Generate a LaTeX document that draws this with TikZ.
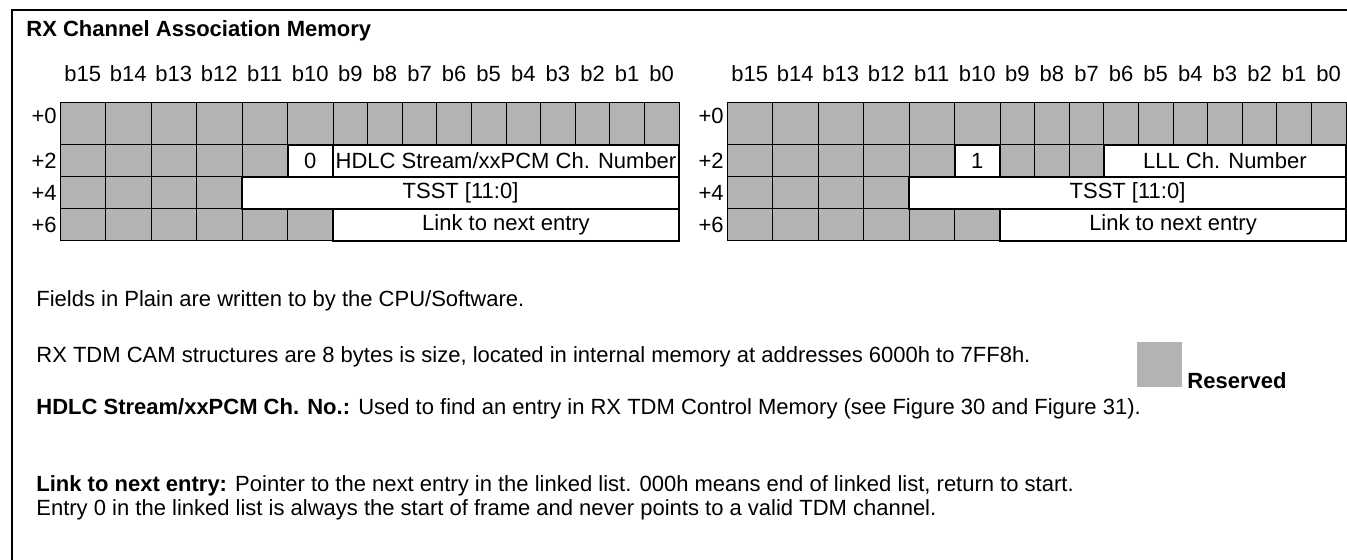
\documentclass[tikz,border=0pt]{standalone}
\usepackage{fontspec}
\setmainfont{Liberation Sans}
\usetikzlibrary{positioning}

\definecolor{resgray}{RGB}{179,179,179}
\newcommand{\camfont}{\fontsize{11}{13.2}\selectfont}
% left edge of bit column #1 (b15 = column 0), in pixels
\pgfmathdeclarefunction{colx}{1}{\pgfmathparse{(#1<=6) ? 45.5*#1 : 273+34.6*(#1-6)}}

\tikzset{
  gridcell/.style={fill=resgray, draw=black, line width=0.5pt},
  field/.style={draw=black, line width=1pt, fill=white, inner sep=0pt, outer sep=0pt,
    anchor=north west, minimum height=16pt, font=\camfont},
  bitlabel/.style={anchor=base, inner sep=0pt, font=\camfont},
  offlabel/.style={anchor=east, inner sep=0pt, font=\camfont},
  plaintext/.style={anchor=base west, inner sep=0pt, font=\camfont},
  boldtext/.style={anchor=base west, inner sep=0pt, font=\camfont\bfseries},
}

\begin{document}
\begin{tikzpicture}[x=0.5pt, y=-0.5pt]
  \useasboundingbox (0,0) rectangle (1347,560);
  \draw[line width=1pt] (12,560) -- (12,10) -- (1347,10);

  \node[boldtext] (title) at (26,37) {RX Channel Association Memory};

  % both entry layouts: grey cells, bit numbers, offsets
  \foreach \xo/\t in {60/l,727/r} {
    \foreach \top/\bot in {103/145,145/177,177/209,209/241}
      \foreach \c in {0,...,15}
        \draw[gridcell] ({\xo+colx(\c)},\top) rectangle ({\xo+colx(\c+1)},\bot);
    \foreach \c in {0,...,15} {
      \pgfmathtruncatemacro\bit{15-\c}
      \node[bitlabel] (\t b\c) at ({\xo+colx(\c+0.5)},82) {b\bit};
    }
    \foreach \o/\y in {0/116,2/161,4/193,6/225}
      \node[offlabel] (\t o\o) at (\xo-3,\y) {+\o};
  }

  % left entry: HDLC stream / xxPCM channel
  \node[field, minimum width=22.75pt] (lflag) at (287.5,145) {0};
  \node[field, minimum width=173pt] (lhdlc) at (333,145) {HDLC Stream/xxPCM Ch. Number};
  \node[field, minimum width=218.5pt] (ltsst) at (242,177) {TSST [11:0]};
  \node[field, minimum width=173pt] (llink) at (333,209) {Link to next entry};

  % right entry: LLL channel
  \node[field, minimum width=22.75pt] (rflag) at (954.5,145) {1};
  \node[field, minimum width=121.1pt] (rlll) at (1103.8,145) {LLL Ch. Number};
  \node[field, minimum width=218.5pt] (rtsst) at (909,177) {TSST [11:0]};
  \node[field, minimum width=173pt] (rlink) at (1000,209) {Link to next entry};

  % notes
  \node[plaintext] (note1) at (36,307) {Fields in Plain are written to by the CPU/Software.};
  \node[plaintext] (note2) at (36,363) {RX TDM CAM structures are 8 bytes is size, located in internal memory at addresses 6000h to 7FF8h.};
  \node[plaintext] (note3) at (36,415) {\textbf{HDLC Stream/xxPCM Ch. No.:} Used to find an entry in RX TDM Control Memory (see Figure 30 and Figure 31).};
  \node[plaintext] (note4) at (36,491) {\textbf{Link to next entry:} Pointer to the next entry in the linked list. 000h means end of linked list, return to start.};
  \node[plaintext] (note5) at (36,515) {Entry 0 in the linked list is always the start of frame and never points to a valid TDM channel.};

  % legend
  \node[fill=resgray, inner sep=0pt, minimum width=22.5pt, minimum height=22.5pt,
    anchor=south east] (ressq) at (1182,387) {};
  \node[boldtext] (reslbl) at (1187,389) {Reserved};
\end{tikzpicture}
\end{document}
